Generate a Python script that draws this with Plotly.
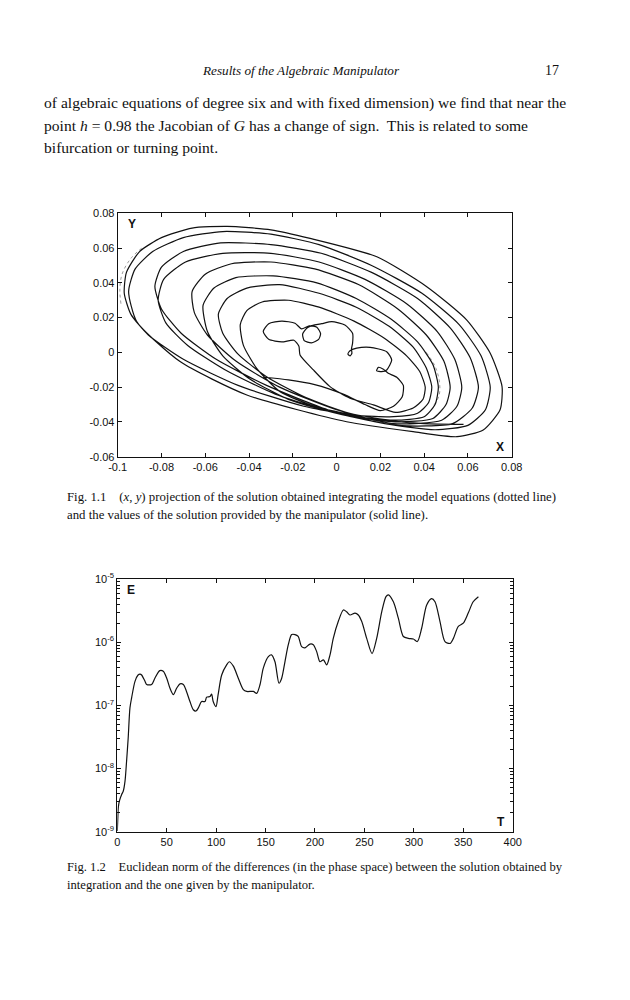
import plotly.graph_objects as go

# ---- Fig 1.1 : (x, y) projection, traced from the page ----
# inner part: start line, epicycle, curl, two small loops
inner_x = [-0.0335, -0.022, -0.010, 0.003, 0.013, 0.020, 0.026, 0.030, 0.0305, 0.0275,
           0.0236, 0.0214, 0.0191, 0.0183, 0.0206, 0.0229, 0.0252, 0.0229, 0.0153, 0.0092,
           0.0060, 0.0052, 0.0062, 0.0070, 0.0068, 0.0073, 0.0073, 0.0038, -0.0022, -0.0068,
           -0.0100, -0.0135, -0.0155, -0.0148, -0.0115, -0.0082, -0.0073, -0.0090, -0.0125, -0.0160,
           -0.0190, -0.0250, -0.0310, -0.0335, -0.0310, -0.0250, -0.0195, -0.0172, -0.0167, -0.0106,
           -0.0030, 0.0061, 0.0168]
inner_y = [-0.0143, -0.0158, -0.0185, -0.0240, -0.0300, -0.0335, -0.0310, -0.0255, -0.0190, -0.0143,
           -0.0120, -0.0097, -0.0086, -0.0105, -0.0111, -0.0101, -0.0044, 0.0004, 0.0029, 0.0024,
           0.0008, -0.0010, -0.0020, -0.0005, 0.0020, 0.0052, 0.0110, 0.0158, 0.0177, 0.0165,
           0.0158, 0.0140, 0.0105, 0.0068, 0.0055, 0.0075, 0.0108, 0.0145, 0.0152, 0.0135,
           0.0168, 0.0180, 0.0165, 0.0120, 0.0075, 0.0060, 0.0070, 0.0035, -0.0015, -0.0101,
           -0.0197, -0.0264, -0.0302]

orbit1_x = [0.027, 0.035, 0.0395, 0.0405, 0.038, 0.032, 0.022, 0.008, -0.008, -0.022, -0.034, -0.041, -0.044, -0.0426, -0.0365, -0.0258, -0.010, 0.008]
orbit1_y = [-0.0345, -0.032, -0.027, -0.020, -0.011, -0.002, 0.008, 0.018, 0.026, 0.030, 0.029, 0.024, 0.016, 0.0042, -0.0092, -0.0226, -0.031, -0.036]
orbit2_x = [0.026, 0.037, 0.042, 0.0435, 0.041, 0.035, 0.024, 0.009, -0.008, -0.026, -0.041, -0.050, -0.054, -0.052, -0.045, -0.032, -0.014, 0.006]
orbit2_y = [-0.037, -0.035, -0.029, -0.020, -0.009, 0.003, 0.015, 0.026, 0.034, 0.039, 0.037, 0.031, 0.022, 0.011, -0.001, -0.014, -0.026, -0.035]
orbit3_x = [0.026, 0.040, 0.045, 0.0465, 0.044, 0.037, 0.025, 0.009, -0.009, -0.029, -0.046, -0.056, -0.061, -0.059, -0.052, -0.040, -0.022, 0.003]
orbit3_y = [-0.039, -0.037, -0.030, -0.020, -0.007, 0.006, 0.019, 0.031, 0.040, 0.044, 0.043, 0.037, 0.027, 0.012, -0.002, -0.015, -0.027, -0.036]
orbit4_x = [0.027, 0.044, 0.050, 0.0519, 0.049, 0.041, 0.028, 0.010, -0.010, -0.030, -0.048, -0.060, -0.066, -0.065, -0.059, -0.046, -0.026, 0.000]
orbit4_y = [-0.040, -0.038, -0.030, -0.020, -0.005, 0.010, 0.025, 0.039, 0.048, 0.052, 0.051, 0.045, 0.035, 0.023, 0.010, -0.005, -0.020, -0.033]
orbit5_x = [0.026, 0.048, 0.055, 0.0572, 0.054, 0.046, 0.032, 0.013, -0.008, -0.030, -0.052, -0.069, -0.079, -0.0815, -0.078, -0.068, -0.051, -0.028, 0.000]
orbit5_y = [-0.041, -0.039, -0.031, -0.020, -0.004, 0.012, 0.028, 0.042, 0.052, 0.057, 0.057, 0.052, 0.042, 0.030, 0.017, 0.004, -0.010, -0.024, -0.035]
orbit6_x = [0.028, 0.053, 0.062, 0.0648, 0.061, 0.052, 0.037, 0.016, -0.007, -0.030, -0.053, -0.070, -0.080, -0.083, -0.080, -0.071, -0.055, -0.032, -0.004, 0.022]
orbit6_y = [-0.042, -0.041, -0.032, -0.020, -0.003, 0.014, 0.031, 0.046, 0.057, 0.062, 0.063, 0.058, 0.049, 0.038, 0.025, 0.011, -0.004, -0.019, -0.033, -0.041]
orbit7_x = [0.045, 0.060, 0.068, 0.0702, 0.066, 0.056, 0.039, 0.016, -0.008, -0.030, -0.052, -0.070, -0.084, -0.092, -0.095, -0.0913, -0.0715, -0.041, 0.0046, 0.035]
orbit7_y = [-0.0445, -0.042, -0.033, -0.020, -0.002, 0.016, 0.034, 0.050, 0.062, 0.068, 0.0695, 0.066, 0.058, 0.048, 0.035, 0.0177, -0.0053, -0.0245, -0.0399, -0.0456]
orbit8_x = [0.055, 0.067, 0.0747, 0.0756, 0.0702, 0.0595, 0.0412, 0.0184, -0.0121, -0.030, -0.050, -0.066, -0.080, -0.090, -0.096, -0.097, -0.094, -0.086, -0.070, -0.045, -0.015, 0.015, 0.040, 0.058]
orbit8_y = [-0.0485, -0.0446, -0.033, -0.0197, -0.0005, 0.0186, 0.0378, 0.055, 0.0656, 0.0705, 0.0725, 0.0715, 0.066, 0.058, 0.046, 0.034, 0.022, 0.010, -0.004, -0.019, -0.031, -0.038, -0.041, -0.0414]

# bits of the integrated (dotted) solution that show beside the solid line
dot_left_x = [-0.0985, -0.099, -0.098, -0.094, -0.088]
dot_left_y = [0.028, 0.036, 0.045, 0.054, 0.061]
dot_right_x = [0.041, 0.045, 0.047, 0.0468, 0.044]
dot_right_y = [0.000, -0.008, -0.017, -0.025, -0.031]

traj_x = inner_x + orbit1_x + orbit2_x + orbit3_x + orbit4_x + orbit5_x + orbit6_x + orbit7_x + orbit8_x
traj_y = inner_y + orbit1_y + orbit2_y + orbit3_y + orbit4_y + orbit5_y + orbit6_y + orbit7_y + orbit8_y

x1_ticks = [-0.1, -0.08, -0.06, -0.04, -0.02, 0, 0.02, 0.04, 0.06, 0.08]
x1_labels = ["-0.1", "-0.08", "-0.06", "-0.04", "-0.02", "0", "0.02", "0.04", "0.06", "0.08"]
y1_ticks = [-0.06, -0.04, -0.02, 0, 0.02, 0.04, 0.06, 0.08]
y1_labels = ["-0.06", "-0.04", "-0.02", "0", "0.02", "0.04", "0.06", "0.08"]

# ---- Fig 1.2 : error norm E(T) ----
t_vals = [0, 0.4, 1, 2, 4.4, 6, 7.8, 9.4, 11, 12.8, 14.5, 17.9, 21, 23, 24.6, 28, 29.7, 34.7, 38, 43,
          46.5, 50, 53.3, 56.7, 60, 63.4, 66.8, 70, 73.5, 76.9, 79.6, 82, 85.3, 88.7, 90.4, 93.8, 95.4, 97, 99.8, 102,
          105.6, 110.6, 113.3, 117.4, 122.4, 127.5, 130.9, 137.6, 141, 144.4, 147.7, 152.8, 156, 159.5, 163.6, 166.3, 169.6, 173, 176.4, 179.8,
          183, 186.5, 189.9, 194.9, 198.3, 201.7, 205, 208.5, 211.8, 215.2, 218.5, 223.6, 228.7, 232, 235.4, 240.5, 243.8, 247.2, 252.3, 257.7,
          262.4, 267.5, 271.8, 274.2, 279.3, 284.3, 289.4, 294.4, 299.5, 303.5, 307.9, 313, 318, 321.4, 326.4, 331.5, 336.6, 340, 345, 350,
          355, 360, 365.3]
log_e = [-8.99, -8.83, -8.62, -8.52, -8.41, -8.36, -8.20, -7.88, -7.52, -7.04, -6.88, -6.62, -6.52, -6.505, -6.52, -6.62, -6.67, -6.67, -6.57, -6.45,
         -6.46, -6.57, -6.73, -6.83, -6.73, -6.66, -6.67, -6.78, -6.94, -7.07, -7.09, -7.04, -6.94, -6.94, -6.87, -6.86, -6.82, -6.94, -7.02, -6.83,
         -6.52, -6.36, -6.31, -6.38, -6.57, -6.75, -6.78, -6.78, -6.81, -6.67, -6.41, -6.23, -6.20, -6.31, -6.65, -6.57, -6.31, -6.04, -5.88, -5.88,
         -5.91, -6.07, -6.09, -6.03, -6.04, -6.15, -6.31, -6.28, -6.36, -6.20, -5.94, -5.67, -5.49, -5.52, -5.57, -5.54, -5.57, -5.67, -5.94, -6.18,
         -5.94, -5.52, -5.28, -5.25, -5.36, -5.62, -5.91, -5.94, -5.95, -5.99, -5.78, -5.41, -5.31, -5.36, -5.67, -5.99, -6.02, -5.94, -5.75, -5.70,
         -5.54, -5.36, -5.28]
e_vals = [10 ** v for v in log_e]

x2_ticks = [0, 50, 100, 150, 200, 250, 300, 350, 400]
y2_ticks = [1e-9, 1e-8, 1e-7, 1e-6, 1e-5]
y2_labels = ["10<sup>-9</sup>", "10<sup>-8</sup>", "10<sup>-7</sup>", "10<sup>-6</sup>", "10<sup>-5</sup>"]
y2_minor = [m * 10 ** d for d in range(-9, -5) for m in range(2, 10)]

fig = go.Figure()
fig.add_trace(go.Scatter(x=dot_left_x, y=dot_left_y, mode="lines", xaxis="x", yaxis="y",
                         line=dict(color="#9a9a9a", width=1, dash="dot", shape="spline")))
fig.add_trace(go.Scatter(x=dot_right_x, y=dot_right_y, mode="lines", xaxis="x", yaxis="y",
                         line=dict(color="#9a9a9a", width=1, dash="dot", shape="spline")))
fig.add_trace(go.Scatter(x=traj_x, y=traj_y, mode="lines", xaxis="x", yaxis="y",
                         line=dict(color="#111", width=1.2, shape="spline", smoothing=0.6)))
fig.add_trace(go.Scatter(x=t_vals, y=e_vals, mode="lines", xaxis="x2", yaxis="y2",
                         line=dict(color="#111", width=1.2, shape="spline", smoothing=0.8)))

tick_font = dict(family="Liberation Sans, Arial, sans-serif", size=11, color="#111")
frame = dict(showline=True, linecolor="#111", linewidth=1, mirror="ticks", ticks="inside",
             ticklen=4, tickcolor="#111", showgrid=False, zeroline=False, tickfont=tick_font,
             automargin=False)

# the page body adds an 8 px offset, so domains are set 8 px up/left of the page positions
fig.update_layout(
    width=630, height=1000, margin=dict(l=0, r=0, t=0, b=0, autoexpand=False),
    paper_bgcolor="white", plot_bgcolor="white", showlegend=False,
    xaxis=dict(domain=[0.1741, 0.7995], anchor="y", range=[-0.1, 0.08],
               tickvals=x1_ticks, ticktext=x1_labels, **frame),
    yaxis=dict(domain=[0.5513, 0.7947], anchor="x", range=[-0.06, 0.08],
               tickvals=y1_ticks, ticktext=y1_labels, **frame),
    xaxis2=dict(domain=[0.1735, 0.8011], anchor="y2", range=[0, 400],
                tickvals=x2_ticks, **frame),
    yaxis2=dict(domain=[0.1763, 0.429], anchor="x2", type="log", range=[-9, -5],
                tickvals=y2_ticks, ticktext=y2_labels,
                minor=dict(ticks="inside", ticklen=3, tickcolor="#111", tickvals=y2_minor, showgrid=False),
                **frame),
)

serif = "Liberation Serif, Times New Roman, serif"
label_font = dict(family="Liberation Sans, Arial, sans-serif", size=12, color="#111")

page_text = [
    (0.465, 0.938, "<i>Results of the Algebraic Manipulator</i>", 13.2, "center"),
    (0.8635, 0.938, "17", 14, "center"),
    (0.054, 0.905, "of algebraic equations of degree six and with fixed dimension) we find that near the", 15.6, "left"),
    (0.054, 0.883, "point <i>h</i> = 0.98 the Jacobian of <i>G</i> has a change of sign.  This is related to some", 15.6, "left"),
    (0.054, 0.861, "bifurcation or turning point.", 15.6, "left"),
    (0.0905, 0.511, "Fig. 1.1    (<i>x</i>, <i>y</i>) projection of the solution obtained integrating the model equations (dotted line)", 12.8, "left"),
    (0.0905, 0.493, "and the values of the solution provided by the manipulator (solid line).", 12.8, "left"),
    (0.0905, 0.141, "Fig. 1.2    Euclidean norm of the differences (in the phase space) between the solution obtained by", 12.6, "left"),
    (0.0905, 0.123, "integration and the one given by the manipulator.", 12.6, "left"),
]
for x, y, txt, size, anchor in page_text:
    fig.add_annotation(x=x, y=y, xref="paper", yref="paper", text=txt, showarrow=False,
                       xanchor=anchor, yanchor="middle",
                       font=dict(family=serif, size=size, color="#111"))

axis_labels = [
    ("x domain", "y domain", 0.02, 0.955, "<b>Y</b>", "left"),
    ("x domain", "y domain", 0.985, 0.04, "<b>X</b>", "right"),
    ("x2 domain", "y2 domain", 0.02, 0.955, "<b>E</b>", "left"),
    ("x2 domain", "y2 domain", 0.985, 0.04, "<b>T</b>", "right"),
]
for xr, yr, x, y, txt, anchor in axis_labels:
    fig.add_annotation(x=x, y=y, xref=xr, yref=yr, text=txt, showarrow=False,
                       xanchor=anchor, yanchor="middle", font=label_font)

fig.write_html("out.html")
